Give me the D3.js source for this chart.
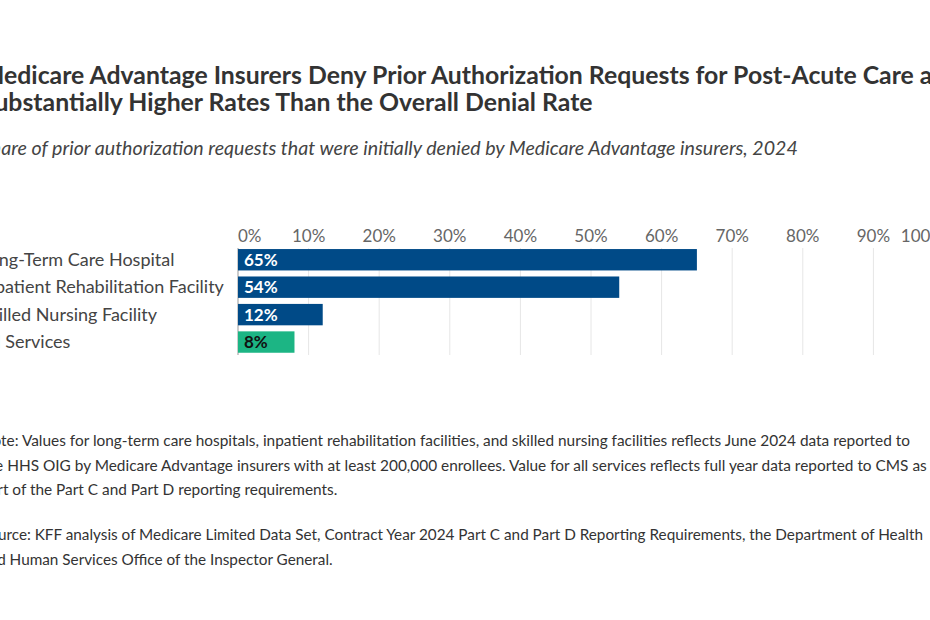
<!DOCTYPE html>
<html>
<head>
<meta charset="utf-8">
<script src="https://cdn.jsdelivr.net/npm/d3@7"></script>
<style>
  body { margin: 0; background: #fff; }
  svg { display: block; }
  text { font-family: "Source Sans Pro", Lato, "Noto Sans", sans-serif; }
</style>
</head>
<body>
<div id="chart"></div>
<script>
// Data
var categories = ["Long-Term Care Hospital", "Inpatient Rehabilitation Facility", "Skilled Nursing Facility", "All Services"];
var values = [65, 54, 12, 8];
var barColors = ["#004a87", "#004a87", "#004a87", "#1cb584"];
var labelColors = ["#fff", "#fff", "#fff", "#111"];
var ticks = [0, 10, 20, 30, 40, 50, 60, 70, 80, 90, 100];

var titleLines = ["Medicare Advantage Insurers Deny Prior Authorization Requests for Post-Acute Care at",
                  "Substantially Higher Rates Than the Overall Denial Rate"];
var subtitle = "Share of prior authorization requests that were initially denied by Medicare Advantage insurers, 2024";
var noteLines = ["Note: Values for long-term care hospitals, inpatient rehabilitation facilities, and skilled nursing facilities reflects June 2024 data reported to",
                 "the HHS OIG by Medicare Advantage insurers with at least 200,000 enrollees. Value for all services reflects full year data reported to CMS as",
                 "part of the Part C and Part D reporting requirements."];
var sourceLines = ["Source: KFF analysis of Medicare Limited Data Set, Contract Year 2024 Part C and Part D Reporting Requirements, the Department of Health",
                   "and Human Services Office of the Inspector General."];

var width = 930, height = 620;
var left = -19;

var svg = d3.select("#chart").append("svg")
    .attr("width", width)
    .attr("height", height);

// Title
svg.append("g").selectAll("text")
    .data(titleLines)
    .join("text")
    .attr("x", left)
    .attr("y", (d, i) => 84 + i * 27)
    .attr("font-size", 24.8)
    .attr("font-weight", 700)
    .attr("fill", "#333")
    .text(d => d);

svg.append("text")
    .attr("x", left)
    .attr("y", 155)
    .attr("font-size", 19.6)
    .attr("font-style", "italic")
    .attr("fill", "#444")
    .text(subtitle);

// Scales
var x = d3.scaleLinear().domain([0, 100]).range([238, 944]);
var y = d3.scaleBand().domain(categories).range([248.5, 353.3]).paddingInner(0.22).paddingOuter(0.02);

// Gridlines
svg.append("g").selectAll("line")
    .data(ticks)
    .join("line")
    .attr("x1", d => x(d)).attr("x2", d => x(d))
    .attr("y1", 248).attr("y2", 355)
    .attr("stroke", d => d === 0 ? "#999" : "#e6e6e6")
    .attr("stroke-width", 1);

// Tick labels
svg.append("g").selectAll("text")
    .data(ticks)
    .join("text")
    .attr("x", d => x(d))
    .attr("y", 242)
    .attr("text-anchor", d => d === 0 ? "start" : d === 100 ? "end" : "middle")
    .attr("font-size", 17)
    .attr("fill", "#666")
    .text(d => d + "%");

// Category labels
svg.append("g").selectAll("text")
    .data(categories)
    .join("text")
    .attr("x", left - 1)
    .attr("y", d => y(d) + y.bandwidth() / 2)
    .attr("dy", "0.35em")
    .attr("font-size", 18)
    .attr("fill", "#444")
    .text(d => d);

// Bars
svg.append("g").selectAll("rect")
    .data(values)
    .join("rect")
    .attr("x", x(0))
    .attr("y", (d, i) => y(categories[i]))
    .attr("width", d => x(d) - x(0))
    .attr("height", y.bandwidth())
    .attr("fill", (d, i) => barColors[i]);

svg.append("g").selectAll("text")
    .data(values)
    .join("text")
    .attr("x", x(0) + 6)
    .attr("y", (d, i) => y(categories[i]) + y.bandwidth() / 2)
    .attr("dy", "0.36em")
    .attr("font-size", 17)
    .attr("font-weight", 700)
    .attr("fill", (d, i) => labelColors[i])
    .text(d => d + "%");

// Notes
svg.append("g").selectAll("text")
    .data(noteLines)
    .join("text")
    .attr("x", left)
    .attr("y", (d, i) => 446 + i * 24.5)
    .attr("font-size", 15.4)
    .attr("fill", "#333")
    .text(d => d);

svg.append("g").selectAll("text")
    .data(sourceLines)
    .join("text")
    .attr("x", left)
    .attr("y", (d, i) => 540 + i * 24.5)
    .attr("font-size", 15.3)
    .attr("fill", "#333")
    .text(d => d);
</script>
</body>
</html>
